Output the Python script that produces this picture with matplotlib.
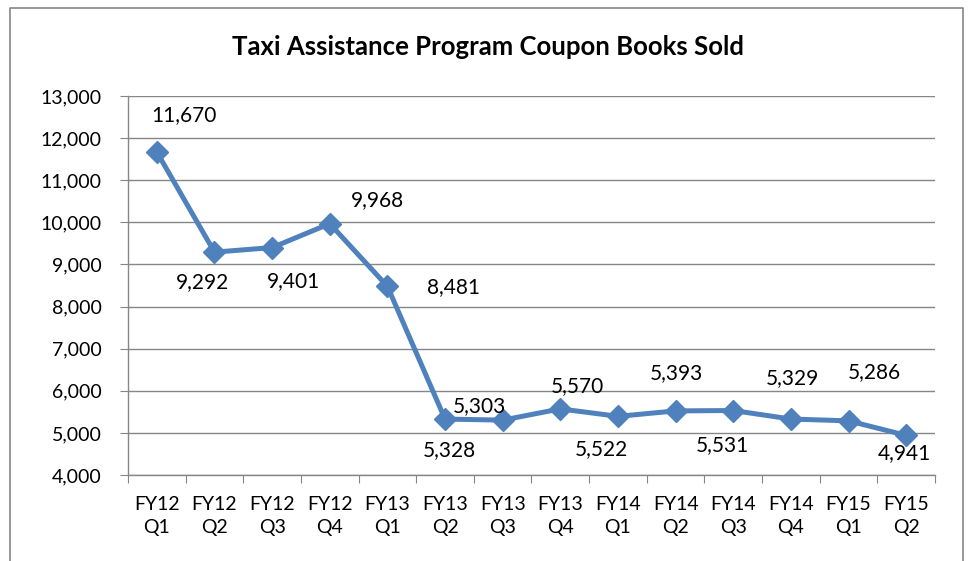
import matplotlib
matplotlib.use("Agg")
import matplotlib.pyplot as plt
from matplotlib.lines import Line2D
from matplotlib.ticker import FuncFormatter, FixedLocator, NullFormatter

plt.rcParams['font.family'] = ['Lato', 'DejaVu Sans']

quarters = ['FY12\nQ1', 'FY12\nQ2', 'FY12\nQ3', 'FY12\nQ4', 'FY13\nQ1', 'FY13\nQ2', 'FY13\nQ3',
            'FY13\nQ4', 'FY14\nQ1', 'FY14\nQ2', 'FY14\nQ3', 'FY14\nQ4', 'FY15\nQ1', 'FY15\nQ2']
books_sold = [11670, 9292, 9401, 9968, 8481, 5328, 5303, 5570, 5393, 5522, 5531, 5329, 5286, 4941]
# labels as they sit next to each point in the original
label_text = ['11,670', '9,292', '9,401', '9,968', '8,481', '5,328', '5,303',
              '5,570', '5,522', '5,393', '5,531', '5,329', '5,286', '4,941']
label_dx = [27, -12, 21, 48, 66, 4, -23, 17, -17, 1, -11, 2, 26, -2]
label_dy = [37, -30, -34, 24, -1, -31, 14, 23, -33, 38, -35, 41, 49, -18]

line_color = '#4F81BD'
grid_color = '#868686'

fig = plt.figure(figsize=(9.69, 5.61), dpi=100)
ax = fig.add_axes([128 / 969, 86 / 561, (935 - 128) / 969, (475 - 96) / 561])

x = list(range(len(quarters)))
ax.plot(x, books_sold, color=line_color, lw=3.6, marker='D', markersize=11,
        markerfacecolor=line_color, markeredgecolor=line_color, zorder=3)

for i, v in enumerate(books_sold):
    ax.annotate(label_text[i], xy=(i, v), xytext=(label_dx[i], label_dy[i]),
                textcoords='offset pixels', ha='center', va='center', fontsize=15)

ax.set_xlim(-0.5, len(quarters) - 0.5)
ax.set_ylim(4000, 13000)
ax.set_yticks(range(4000, 13001, 1000))
ax.yaxis.set_major_formatter(FuncFormatter(lambda v, p: f'{int(v):,}'))
ax.grid(axis='y', color=grid_color, lw=1.0)
ax.set_axisbelow(True)

ax.xaxis.set_major_locator(FixedLocator([i - 0.5 for i in range(len(quarters) + 1)]))
ax.xaxis.set_major_formatter(NullFormatter())
ax.xaxis.set_minor_locator(FixedLocator(x))
ax.set_xticklabels(quarters, minor=True, linespacing=1.45)
ax.tick_params(axis='x', which='minor', length=0, pad=15, labelsize=14)
ax.tick_params(axis='x', which='major', length=6, color=grid_color)
ax.tick_params(axis='y', length=6, color=grid_color, labelsize=14, pad=13)

for s in ['top', 'right']:
    ax.spines[s].set_visible(False)
for s in ['left', 'bottom']:
    ax.spines[s].set_color(grid_color)
    ax.spines[s].set_linewidth(1.0)

fig.text(488 / 969, 1 - 47 / 561, 'Taxi Assistance Program Coupon Books Sold',
         ha='center', va='center', fontsize=18.5, fontweight='bold')

# outer chart border
fig.add_artist(Line2D([10 / 969, 10 / 969, 963 / 969, 963 / 969], [0, 1 - 8 / 561, 1 - 8 / 561, 0],
                      color=grid_color, lw=1.2, transform=fig.transFigure))

fig.savefig('out.png', dpi=100)
